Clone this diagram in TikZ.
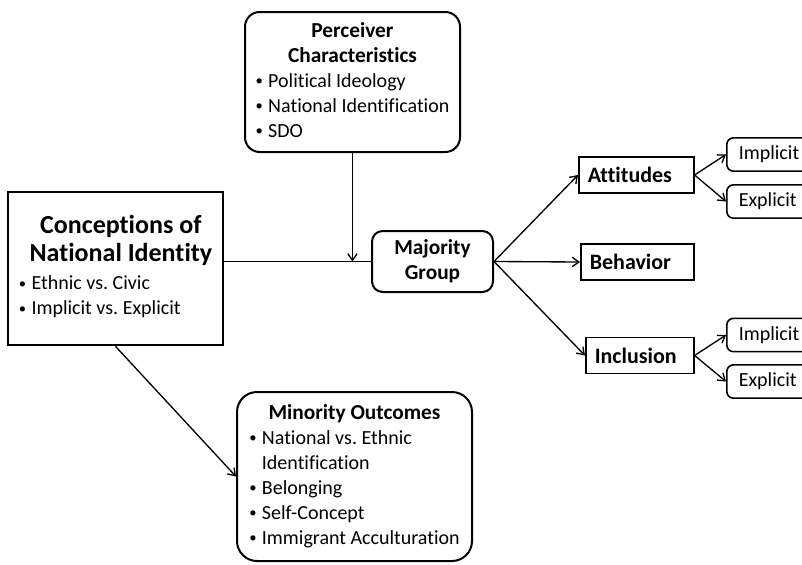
\documentclass[tikz,border=0pt]{standalone}
\usepackage{fontspec}
\setmainfont{Carlito}[Ligatures=NoCommon]
\usetikzlibrary{arrows.meta}
\frenchspacing

\newcommand{\hd}[1]{\multicolumn{2}{c}{\bfseries\fontsize{16}{18.75}\selectfont #1}}
\newcommand{\bighd}[1]{\multicolumn{2}{@{\hspace{8pt}}c@{}}{\bfseries\fontsize{19.5}{22.5}\selectfont #1}}
\newcommand{\bul}{\raisebox{1pt}{\fontsize{11}{13}\selectfont •}}

\begin{document}
\begin{tikzpicture}[x=0.75pt, y=-0.75pt, font=\fontsize{15}{18.75}\selectfont,
    box/.style={draw, line width=1.2pt, inner sep=0pt},
    rbox/.style={box, line width=1.5pt, rounded corners=#1},
    outc/.style={box, anchor=west, text width=#1, inner xsep=6.75pt, minimum height=27pt,
        align=left, font=\bfseries\fontsize{16.5}{19}\selectfont},
    sub/.style={box, rounded corners=5pt, anchor=west, text width=75pt, inner xsep=9pt,
        minimum height=25pt, align=left},
    lnk/.style={line width=1pt, -{Straight Barb[length=5pt,width=7pt]}}]
    \useasboundingbox (0,0) rectangle (802,564);
    \clip (0,0) rectangle (802,564);

    % left and top boxes
    \node[rbox=11pt, minimum width=161.25pt, minimum height=105pt] (percv) at (352.5,82)
        {\begin{tabular}{@{}l@{\hspace{4pt}}l@{}}
            \hd{Perceiver}\\
            \hd{Characteristics}\\
            \bul & Political Ideology\\
            \bul & National Identification\\
            \bul & SDO
        \end{tabular}};
    \node[box, line width=2pt, minimum width=161.25pt, minimum height=114.75pt] (concp) at (115.5,268.5)
        {\begin{tabular}{@{}l@{\hspace{4pt}}l@{}}
            \bighd{Conceptions of}\\[2pt]
            \bighd{National Identity}\\[2pt]
            \bul & Ethnic vs. Civic\\
            \bul & Implicit vs. Explicit
        \end{tabular}};
    \node[rbox=15pt, minimum width=176.25pt, minimum height=126.75pt] (minor) at (354.5,476.5)
        {\begin{tabular}{@{}l@{\hspace{4pt}}l@{}}
            \hd{Minority Outcomes}\\
            \bul & National vs. Ethnic\\
              & Identification\\
            \bul & Belonging\\
            \bul & Self-Concept\\
            \bul & Immigrant Acculturation
        \end{tabular}};
    \node[rbox=8pt, minimum width=90.75pt, minimum height=45.75pt] (major) at (432.5,261.5)
        {\bfseries\fontsize{16}{18.75}\selectfont\begin{tabular}{c}Majority\\Group\end{tabular}};

    % outcome boxes
    \node[outc=72.75pt] (attit) at (578,175) {Attitudes};
    \node[outc=71.25pt] (behav) at (580,262) {Behavior};
    \node[outc=67.5pt] (inclu) at (585,355.5) {Inclusion};

    \node[sub] (impla) at (726,154.5) {Implicit};
    \node[sub] (expla) at (726,201.5) {Explicit};
    \node[sub] (implb) at (726,335) {Implicit};
    \node[sub] (explb) at (726,381.5) {Explicit};

    % connectors
    \coordinate (joint) at (percv.south |- major.west);
    \draw[line width=1pt] (concp.east |- major.west) -- (major.west);
    \draw[lnk] (percv.south) -- (joint);
    \draw[lnk] (concp.south) -- (minor.west);
    \draw[lnk] (major.east) -- (attit.west);
    \draw[lnk] (major.east) -- (behav.west);
    \draw[lnk] (major.east) -- (inclu.west);
    \draw[lnk] (attit.east) -- (impla.west);
    \draw[lnk] (attit.east) -- (expla.west);
    \draw[lnk] (inclu.east) -- (implb.west);
    \draw[lnk] (inclu.east) -- (explb.west);
\end{tikzpicture}
\end{document}
